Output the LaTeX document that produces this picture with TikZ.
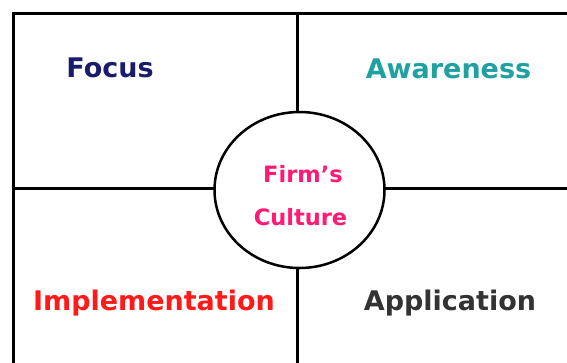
\documentclass[tikz,border=0pt]{standalone}
\usepackage{fontspec}
\usetikzlibrary{shapes.geometric}
\setmainfont{DejaVu Sans}
\begin{document}
\begin{tikzpicture}[x=1pt,y=-1pt,
  gridline/.style={line width=3pt,black},
  label/.style={font=\bfseries\fontsize{27}{30}\selectfont,inner sep=0pt,anchor=base},
  hub/.style={font=\bfseries\fontsize{22.5}{26}\selectfont,text=hubpink,inner sep=0pt,anchor=base}]
\definecolor{focusblue}{HTML}{1B1B6B}
\definecolor{awareteal}{HTML}{20A0A0}
\definecolor{implred}{HTML}{FF1A1A}
\definecolor{applgray}{HTML}{333333}
\definecolor{hubpink}{HTML}{FF1A75}
\useasboundingbox (0,0) rectangle (567,362);
% frame: top and left edges, plus the two dividing lines
\coordinate (tl) at (13.5,13.5);
\coordinate (tr) at (570,13.5);
\coordinate (bl) at (13.5,365);
\coordinate (tm) at (297,13.5);
\coordinate (bm) at (297,365);
\coordinate (ml) at (13.5,188.5);
\coordinate (mr) at (570,188.5);
\draw[gridline] (bl) -- (tl) -- (tr);
\draw[gridline] (tm) -- (bm);
\draw[gridline] (ml) -- (mr);
% central circle
\node[draw=black,line width=2.5pt,fill=white,ellipse,minimum width=170pt,minimum height=156pt,inner sep=0pt] (hubc) at (299.5,190) {};
\node[hub] (firm) at (303,182) {Firm’s};
\node[hub] (cult) at (300.5,225) {Culture};
% quadrant labels
\node[label,text=focusblue] (focus) at (110,77) {Focus};
\node[label,text=awareteal] (aware) at (448.5,78) {Awareness};
\node[label,text=implred] (impl) at (154,310) {Implementation};
\node[label,text=applgray] (appl) at (450,310) {Application};
\end{tikzpicture}
\end{document}
